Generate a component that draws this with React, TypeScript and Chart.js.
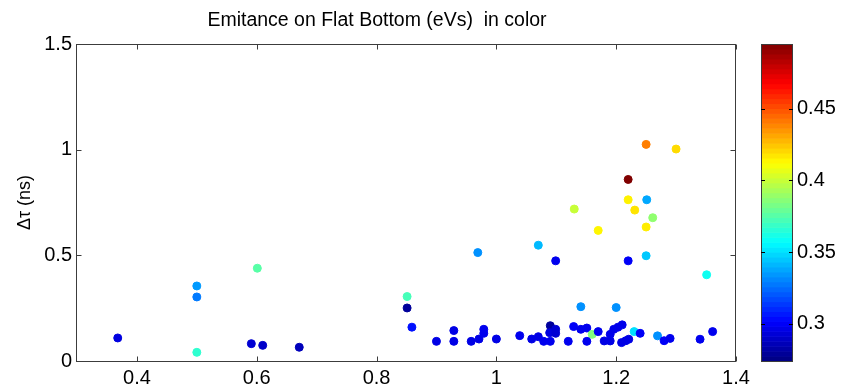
import React, { useEffect, useRef } from "react";
import { Chart, registerables } from "chart.js";

Chart.register(...registerables);

const TITLE = "Emitance on Flat Bottom (eVs)  in color";
const Y_LABEL = "Δτ (ns)";

const X_RANGE = [0.3, 1.4];
const Y_RANGE = [0, 1.5];
const C_RANGE = [0.274, 0.495];

const X_TICKS = [0.4, 0.6, 0.8, 1, 1.2, 1.4];
const Y_TICKS = [0, 0.5, 1, 1.5];
const CB_TICKS = [0.3, 0.35, 0.4, 0.45];

const X_VALUES = [
  0.368, 0.5, 0.5, 0.5, 0.591, 0.61, 0.601, 0.671,
  0.969, 1.07, 1.099, 0.851, 0.851, 0.859, 1.141, 0.929, 0.9, 0.929, 0.958, 0.971,
  0.979, 0.979, 1.0, 1.039, 1.059, 1.07, 1.079, 1.09, 1.089, 1.099, 1.099, 1.09,
  1.12, 1.129, 1.141, 1.151, 1.16, 1.151, 1.17,
  1.22, 1.25, 1.351, 1.2, 1.18, 1.19, 1.19, 1.196, 1.203, 1.21, 1.209, 1.216,
  1.221, 1.23, 1.24, 1.269, 1.28, 1.29, 1.34, 1.361,
  1.25, 1.3, 1.22, 1.22, 1.251, 1.13, 1.231, 1.261, 1.25, 1.17,
];

const Y_VALUES = [
  0.109, 0.355, 0.303, 0.041, 0.082, 0.074, 0.439, 0.065,
  0.513, 0.548, 0.474, 0.305, 0.251, 0.16, 0.257, 0.144, 0.093, 0.093, 0.093, 0.104,
  0.15, 0.131, 0.104, 0.12, 0.104, 0.115, 0.093, 0.167, 0.134, 0.15, 0.131, 0.093,
  0.093, 0.163, 0.15, 0.156, 0.126, 0.093, 0.139,
  0.474, 0.498, 0.408, 0.253, 0.095, 0.095, 0.126, 0.15, 0.16, 0.171, 0.087, 0.096,
  0.103, 0.139, 0.131, 0.119, 0.096, 0.107, 0.103, 0.139,
  1.025, 1.003, 0.859, 0.763, 0.763, 0.719, 0.714, 0.678, 0.634, 0.618,
];

const C_VALUES = [
  0.295, 0.335, 0.328, 0.367, 0.292, 0.29, 0.376, 0.287,
  0.333, 0.342, 0.298, 0.372, 0.28, 0.305, 0.333, 0.296, 0.296, 0.296, 0.296, 0.296,
  0.298, 0.298, 0.296, 0.298, 0.296, 0.296, 0.298, 0.28, 0.295, 0.292, 0.292, 0.298,
  0.298, 0.3, 0.298, 0.298, 0.385, 0.298, 0.298,
  0.3, 0.345, 0.36, 0.333, 0.296, 0.296, 0.297, 0.297, 0.297, 0.297, 0.296, 0.296,
  0.296, 0.35, 0.3, 0.333, 0.3, 0.298, 0.298, 0.298,
  0.44, 0.42, 0.495, 0.415, 0.338, 0.4, 0.418, 0.388, 0.416, 0.414,
];

const FONT = "'Liberation Sans', Arial, sans-serif";
const AXIS_COLOR = "#3c3c3c";

function clamp01(v: number) {
  return Math.max(0, Math.min(1, v));
}

function jet(t: number): string {
  const r = clamp01(1.5 - Math.abs(4 * t - 3));
  const g = clamp01(1.5 - Math.abs(4 * t - 2));
  const b = clamp01(1.5 - Math.abs(4 * t - 1));
  return `rgb(${Math.round(r * 255)},${Math.round(g * 255)},${Math.round(b * 255)})`;
}

function colorFor(c: number): string {
  return jet(clamp01((c - C_RANGE[0]) / (C_RANGE[1] - C_RANGE[0])));
}

function zeroPad(s: any) {
  s.paddingTop = 0;
  s.paddingBottom = 0;
  s.paddingLeft = 0;
  s.paddingRight = 0;
}

const framePlugin = {
  id: "frame",
  afterDraw(chart: any) {
    const ctx = chart.ctx;
    const { left, right, top, bottom } = chart.chartArea;
    const xs = chart.scales.x;
    const ys = chart.scales.y;
    const cb = chart.scales.cb;
    ctx.save();

    // axes box
    ctx.strokeStyle = AXIS_COLOR;
    ctx.lineWidth = 1;
    const L = Math.round(left) - 0.5;
    const R = Math.round(right) - 0.5;
    const T = Math.round(top) + 0.5;
    const B = Math.round(bottom) + 0.5;
    ctx.strokeRect(L, T, R - L, B - T);

    const tl = 5;
    ctx.beginPath();
    for (const v of X_TICKS) {
      const px = Math.round(xs.getPixelForValue(v)) + 0.5;
      ctx.moveTo(px, B);
      ctx.lineTo(px, B - tl);
      ctx.moveTo(px, T);
      ctx.lineTo(px, T + tl);
    }
    for (const v of Y_TICKS) {
      const py = Math.round(ys.getPixelForValue(v)) + 0.5;
      ctx.moveTo(L, py);
      ctx.lineTo(L + tl, py);
      ctx.moveTo(R, py);
      ctx.lineTo(R - tl, py);
    }
    ctx.stroke();

    // colorbar
    const cbL = Math.round(cb.left) + 25;
    const cbR = Math.round(cb.left) + 57;
    const cbT = cb.top;
    const cbB = cb.bottom;
    const N = 64;
    const h = (cbB - cbT) / N;
    for (let i = 0; i < N; i++) {
      ctx.fillStyle = jet((i + 0.5) / N);
      const y1 = cbB - (i + 1) * h;
      ctx.fillRect(cbL, y1, cbR - cbL, h + 0.6);
    }
    ctx.strokeStyle = AXIS_COLOR;
    ctx.strokeRect(cbL + 0.5, Math.round(cbT) + 0.5, cbR - cbL - 1, Math.round(cbB - cbT));
    ctx.strokeStyle = "#000";
    ctx.beginPath();
    for (const v of CB_TICKS) {
      const py = Math.round(cb.getPixelForValue(v)) + 0.5;
      ctx.moveTo(cbL, py);
      ctx.lineTo(cbL + 4, py);
      ctx.moveTo(cbR, py);
      ctx.lineTo(cbR - 4, py);
    }
    ctx.stroke();

    // title
    ctx.fillStyle = "#000";
    ctx.font = `19.5px ${FONT}`;
    ctx.textAlign = "center";
    ctx.textBaseline = "middle";
    ctx.fillText(TITLE, 377, 21);

    ctx.restore();
  },
};

export default function App() {
  const canvasRef = useRef<HTMLCanvasElement | null>(null);

  useEffect(() => {
    document.body.style.margin = "0";
    const canvas = canvasRef.current;
    if (!canvas) return;
    const points = X_VALUES.map((x, i) => ({ x, y: Y_VALUES[i] }));
    const colors = C_VALUES.map(colorFor);
    const tickFont = { family: FONT, size: 20 };

    const chart = new Chart(canvas, {
      type: "scatter",
      data: {
        datasets: [
          {
            data: points,
            backgroundColor: colors,
            borderColor: colors,
            pointRadius: 4,
            borderWidth: 1,
            pointHoverRadius: 4,
          },
        ],
      },
      options: {
        responsive: false,
        animation: false,
        events: [],
        layout: { padding: { top: 44, left: 0, right: 0, bottom: 0 } },
        plugins: {
          legend: { display: false },
          tooltip: { enabled: false },
          title: { display: false },
        },
        scales: {
          x: {
            type: "linear",
            position: "bottom",
            min: X_RANGE[0],
            max: X_RANGE[1],
            afterBuildTicks: (s: any) => {
              s.ticks = X_TICKS.map((v) => ({ value: v }));
            },
            afterFit: (s: any) => {
              s.height = 30;
              zeroPad(s);
            },
            ticks: {
              autoSkip: false,
              maxRotation: 0,
              color: "#000",
              font: tickFont,
              padding: 5,
              callback: (v: any) => String(v),
            },
            grid: { display: false, drawTicks: false },
            border: { display: false },
          },
          y: {
            type: "linear",
            position: "left",
            min: Y_RANGE[0],
            max: Y_RANGE[1],
            afterBuildTicks: (s: any) => {
              s.ticks = Y_TICKS.map((v) => ({ value: v }));
            },
            afterFit: (s: any) => {
              s.width = 77;
              zeroPad(s);
            },
            ticks: {
              autoSkip: false,
              color: "#000",
              font: tickFont,
              padding: 5,
              callback: (v: any) => String(v),
            },
            title: {
              display: true,
              text: Y_LABEL,
              color: "#000",
              font: { family: FONT, size: 18 },
              padding: { top: 14, bottom: 0 },
            },
            grid: { display: false, drawTicks: false },
            border: { display: false },
          },
          cb: {
            type: "linear",
            position: "right",
            min: C_RANGE[0],
            max: C_RANGE[1],
            afterBuildTicks: (s: any) => {
              s.ticks = CB_TICKS.map((v) => ({ value: v }));
            },
            afterFit: (s: any) => {
              s.width = 108;
              zeroPad(s);
            },
            ticks: {
              autoSkip: false,
              color: "#000",
              font: tickFont,
              padding: 61,
              callback: (v: any) => String(v),
            },
            grid: { display: false, drawTicks: false },
            border: { display: false },
          },
        },
      },
      plugins: [framePlugin],
    });
    return () => chart.destroy();
  }, []);

  return (
    <div style={{ width: 844, height: 391 }}>
      <canvas ref={canvasRef} width={844} height={391} style={{ display: "block" }} />
    </div>
  );
}
